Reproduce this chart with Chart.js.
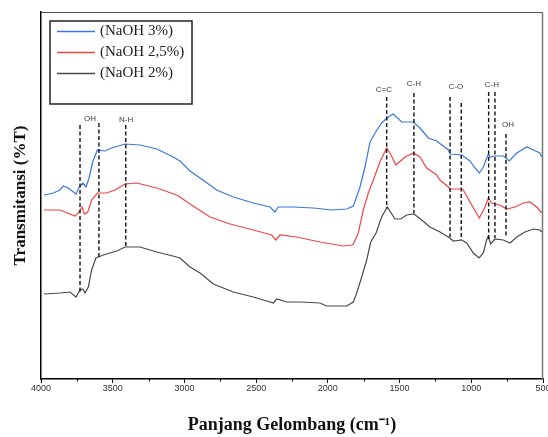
<!DOCTYPE html>
<html lang="id">
<head>
    <meta charset="UTF-8">
    <title>Spektrum FTIR</title>
    <style>
        body { margin: 0; padding: 0; background: #fff; }
        .wrap { width: 548px; height: 437px; position: relative; }
    </style>
</head>
<body>
    <div class="wrap"><canvas id="ftir"></canvas></div>

    <script src="https://cdn.jsdelivr.net/npm/chart.js"></script>
    <script>
        // bilangan gelombang (cm-1) dan transmitansi (satuan relatif) tiap sampel
        const wnBlue = [3979,3914,3868,3845,3810,3756,3733,3709,3686,3663,3640,3607,3554,3507,3414,3310,3193,3078,3031,2961,2891,2775,2659,2520,2403,2369,2346,2241,2101,1973,1869,1822,1776,1741,1706,1671,1625,1579,1544,1485,1404,1358,1300,1241,1160,1148,1067,1009,974,944,916,881,869,835,777,735,683,614,567,521,509];
        const tBlue  = [184,186,189,193,191,185,192,196,192,202,217,229,228,231,235,234,230,222,218,208,201,189,182,176,172,167,172,172,171,169,170,173,192,212,237,246,256,262,265,257,257,251,241,238,229,225,224,218,211,206,212,225,222,223,223,218,226,232,229,226,222];

        const wnRed = [3979,3868,3763,3733,3714,3698,3674,3647,3607,3542,3484,3414,3333,3193,3054,3031,2961,2822,2682,2520,2392,2364,2334,2217,2055,1892,1834,1822,1788,1753,1718,1683,1637,1590,1567,1525,1462,1404,1358,1311,1241,1218,1160,1148,1060,1009,944,904,881,858,800,753,695,637,591,544,509];
        const tRed  = [169,169,163,167,172,165,167,179,186,186,189,195,196,191,184,182,175,162,155,149,144,139,144,142,137,133,134,135,146,169,186,199,217,231,226,214,222,226,222,211,204,199,192,190,190,177,161,172,181,176,174,170,172,176,177,172,166];

        const wnBlack = [3979,3868,3798,3756,3728,3709,3693,3670,3647,3617,3566,3472,3414,3310,3193,3054,3031,2961,2891,2798,2659,2520,2380,2357,2287,2194,2055,2008,1869,1822,1799,1764,1729,1701,1664,1625,1586,1532,1492,1450,1400,1346,1288,1218,1160,1125,1067,1032,986,946,916,893,881,865,835,777,730,683,626,567,521,509];
        const tBlack  = [85,86,87,82,89,90,86,92,109,121,124,128,132,132,127,122,121,112,106,95,87,82,76,80,77,77,76,73,73,77,86,102,119,137,146,162,172,160,160,164,165,159,152,147,142,138,139,136,126,121,126,139,143,135,140,139,136,142,147,150,149,147];

        const seriesLabels = ['(NaOH 3%)', '(NaOH 2,5%)', '(NaOH 2%)'];
        const seriesColors = ['#3a78dc', '#ee4646', '#4a4a4a'];

        // garis putus-putus penanda gugus: posisi, ujung atas, ujung bawah
        const markWn     = [3728, 3596, 3409, 1590, 1400, 1148, 1070, 879, 835, 758];
        const markTop    = [254, 256, 254, 282, 286, 282, 276, 287, 287, 245];
        const markBottom = [86, 122, 132, 171, 166, 142, 139, 139, 141, 142];

        const groupText = ['OH', 'N-H', 'C=C', 'C-H', 'C-O', 'C-H', 'OH'];
        const groupWn   = [3658, 3407, 1609, 1400, 1107, 856, 744];
        const groupT    = [260, 259, 289, 295, 292, 294, 254];

        const xTicks = [4000, 3500, 3000, 2500, 2000, 1500, 1000, 500];

        function pts(wn, t) {
            return wn.map((w, i) => ({ x: w, y: t[i] }));
        }

        const extras = {
            id: 'extras',
            afterDraw(chart) {
                const { ctx, chartArea: a, scales: { x, y } } = chart;
                ctx.save();

                // bingkai atas & kanan
                ctx.strokeStyle = '#555';
                ctx.lineWidth = 1;
                ctx.beginPath();
                ctx.moveTo(a.left, a.top + 0.5);
                ctx.lineTo(a.right, a.top + 0.5);
                ctx.stroke();
                ctx.strokeStyle = '#777';
                ctx.lineWidth = 1.5;
                ctx.beginPath();
                ctx.moveTo(a.right - 0.5, a.top);
                ctx.lineTo(a.right - 0.5, a.bottom);
                ctx.stroke();

                // tick minor
                ctx.strokeStyle = '#000';
                ctx.lineWidth = 1;
                for (let v = 750; v < 4000; v += 500) {
                    const px = Math.round(x.getPixelForValue(v)) + 0.5;
                    ctx.beginPath();
                    ctx.moveTo(px, a.bottom);
                    ctx.lineTo(px, a.bottom + 2.5);
                    ctx.stroke();
                }

                // garis penanda
                ctx.setLineDash([4, 2.5]);
                ctx.lineWidth = 1.4;
                ctx.strokeStyle = '#111';
                markWn.forEach((w, i) => {
                    const px = x.getPixelForValue(w);
                    ctx.beginPath();
                    ctx.moveTo(px, y.getPixelForValue(markTop[i]));
                    ctx.lineTo(px, y.getPixelForValue(markBottom[i]));
                    ctx.stroke();
                });
                ctx.setLineDash([]);

                ctx.fillStyle = '#3a3a3a';
                ctx.font = '8px "Liberation Sans", Arial, sans-serif';
                ctx.textAlign = 'center';
                ctx.textBaseline = 'middle';
                groupText.forEach((s, i) => {
                    ctx.fillText(s, x.getPixelForValue(groupWn[i]), y.getPixelForValue(groupT[i]));
                });

                // legenda
                const lx = a.left + 9, ly = a.top + 9, lw = 142, lh = 83;
                ctx.strokeStyle = '#222';
                ctx.lineWidth = 1.5;
                ctx.strokeRect(lx, ly, lw, lh);
                ctx.font = '15px "Liberation Serif", "Times New Roman", serif';
                ctx.textAlign = 'left';
                ctx.fillStyle = '#222';
                seriesLabels.forEach((s, i) => {
                    const ry = ly + 10.5 + i * 21;
                    ctx.strokeStyle = seriesColors[i];
                    ctx.lineWidth = 1.4;
                    ctx.beginPath();
                    ctx.moveTo(lx + 7, ry);
                    ctx.lineTo(lx + 45, ry);
                    ctx.stroke();
                    ctx.fillText(s, lx + 50, ry);
                });
                ctx.restore();
            }
        };

        new Chart(document.getElementById('ftir'), {
            type: 'line',
            data: {
                datasets: [
                    { label: seriesLabels[0], data: pts(wnBlue, tBlue), borderColor: seriesColors[0] },
                    { label: seriesLabels[1], data: pts(wnRed, tRed), borderColor: seriesColors[1] },
                    { label: seriesLabels[2], data: pts(wnBlack, tBlack), borderColor: seriesColors[2] }
                ]
            },
            options: {
                responsive: true,
                maintainAspectRatio: false,
                animation: false,
                layout: { padding: { left: 8, top: 12, right: 5, bottom: 0 } },
                elements: {
                    point: { radius: 0 },
                    line: { borderWidth: 1.2, tension: 0 }
                },
                plugins: {
                    legend: { display: false },
                    tooltip: { enabled: false }
                },
                scales: {
                    x: {
                        type: 'linear',
                        reverse: true,
                        min: 500,
                        max: 4000,
                        afterBuildTicks: s => { s.ticks = xTicks.map(v => ({ value: v })); },
                        afterFit: s => {
                            s.height = 58;
                            s.paddingLeft = 0;
                            s.paddingRight = 0;
                        },
                        ticks: {
                            color: '#333',
                            padding: 0,
                            maxRotation: 0,
                            callback: v => String(v),
                            font: { family: '"Liberation Sans", Arial, sans-serif', size: 9 }
                        },
                        grid: { drawOnChartArea: false, tickLength: 4, color: '#000' },
                        border: { color: '#000', width: 1.5 },
                        title: {
                            display: true,
                            text: 'Panjang Gelombang (cm\u207B\u00B9)',
                            color: '#111',
                            font: { family: '"Liberation Serif", "Times New Roman", serif', size: 18, weight: 'bold' },
                            padding: { top: 0, bottom: 1 }
                        }
                    },
                    y: {
                        min: 0,
                        max: 367,
                        afterFit: s => { s.width = 33; },
                        ticks: { display: false },
                        grid: { drawOnChartArea: false, drawTicks: false },
                        border: { color: '#000', width: 1.5 },
                        title: {
                            display: true,
                            text: 'Transmitansi (%T)',
                            color: '#111',
                            font: { family: '"Liberation Serif", "Times New Roman", serif', size: 17, weight: 'bold' },
                            padding: { top: 2, bottom: 0 }
                        }
                    }
                }
            },
            plugins: [extras]
        });
    </script>
</body>
</html>
